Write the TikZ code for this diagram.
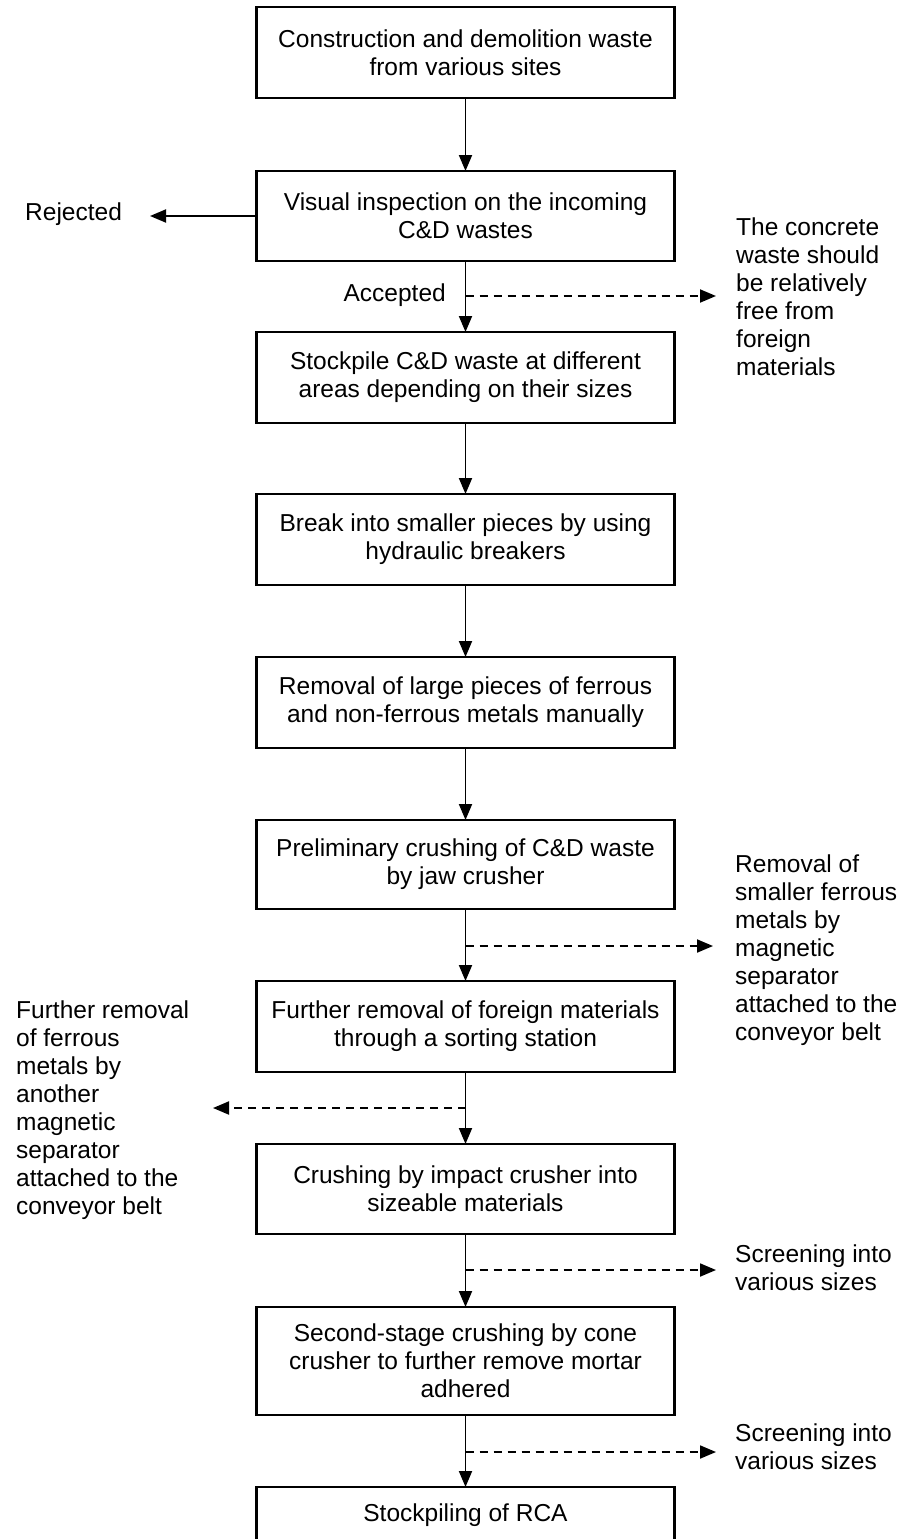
\documentclass[tikz,border=0pt]{standalone}
\usepackage{fontspec}
\setmainfont{Liberation Sans}
\usetikzlibrary{arrows.meta}
\tikzset{
  txt/.style={font={\fontsize{24.5}{28}\selectfont}},
  box/.style={txt, draw, line width=2.2pt, minimum width=418pt, minimum height=91pt,
    inner xsep=4pt, inner ysep=0pt, outer sep=0pt, align=center, anchor=north},
  lbl/.style={txt, inner sep=0pt, align=left},
  flow/.style={line width=1.9pt, -{Triangle[length=16pt,width=13pt]}},
  side/.style={flow, dash pattern=on 8pt off 6pt},
}
\begin{document}
\begin{tikzpicture}[x=1pt,y=-1pt]
\useasboundingbox (0,0) rectangle (904,1539);
\clip (0,0) rectangle (904,1539);

% main boxes
\node[box] (b1) at (465.5,7) {Construction and demolition waste\\from various sites};
\node[box, minimum height=90pt] (b2) at (465.5,171) {Visual inspection on the incoming\\C\&D wastes};
\node[box] (b3) at (465.5,332) {Stockpile C\&D waste at different\\areas depending on their sizes};
\node[box] (b4) at (465.5,494) {Break into smaller pieces by using\\hydraulic breakers};
\node[box] (b5) at (465.5,657) {Removal of large pieces of ferrous\\and non-ferrous metals manually};
\node[box, minimum height=89pt] (b6) at (465.5,820) {Preliminary crushing of C\&D waste\\by jaw crusher};
\node[box] (b7) at (465.5,981) {Further removal of foreign materials\\through a sorting station};
\node[box, minimum height=90pt] (b8) at (465.5,1144) {Crushing by impact crusher into\\sizeable materials};
\node[box, minimum height=108pt] (b9) at (465.5,1307) {Second-stage crushing by cone\\crusher to further remove mortar\\adhered};
\node[box, text height=34pt, text depth=57pt] (b10) at (465.5,1487) {Stockpiling of RCA};

% side labels
\node[lbl, anchor=west] (rej) at (25,214) {Rejected};
\node[lbl, anchor=east] (acc) at (446,295) {Accepted};
\node[lbl, anchor=west] (t1) at (736,297) {The concrete\\waste should\\be relatively\\free from\\foreign\\materials};
\node[lbl, anchor=west] (t2) at (735,950) {Removal of\\smaller ferrous\\metals by\\magnetic\\separator\\attached to the\\conveyor belt};
\node[lbl, anchor=west] (t3) at (16,1110) {Further removal\\of ferrous\\metals by\\another\\magnetic\\separator\\attached to the\\conveyor belt};
\node[lbl, anchor=west] (t4) at (735,1268) {Screening into\\various sizes};
\node[lbl, anchor=west] (t5) at (735,1447) {Screening into\\various sizes};

% arrow tip coordinates
\coordinate (rt) at (150,216);
\coordinate (a1) at (716,296);
\coordinate (a2) at (713,946);
\coordinate (a3) at (213,1108);
\coordinate (a4) at (716,1270);
\coordinate (a5) at (716,1452);

% main flow
\draw[flow] (b1.south) -- (b2.north);
\draw[flow] (b2.south) -- (b3.north);
\draw[flow] (b3.south) -- (b4.north);
\draw[flow] (b4.south) -- (b5.north);
\draw[flow] (b5.south) -- (b6.north);
\draw[flow] (b6.south) -- (b7.north);
\draw[flow] (b7.south) -- (b8.north);
\draw[flow] (b8.south) -- (b9.north);
\draw[flow] (b9.south) -- (b10.north);

% side arrows
\draw[flow] (b2.west) -- (rt);
\draw[side] (b2.south |- a1) -- (a1);
\draw[side] (b6.south |- a2) -- (a2);
\draw[side] (b7.south |- a3) -- (a3);
\draw[side] (b8.south |- a4) -- (a4);
\draw[side] (b9.south |- a5) -- (a5);
\end{tikzpicture}
\end{document}
